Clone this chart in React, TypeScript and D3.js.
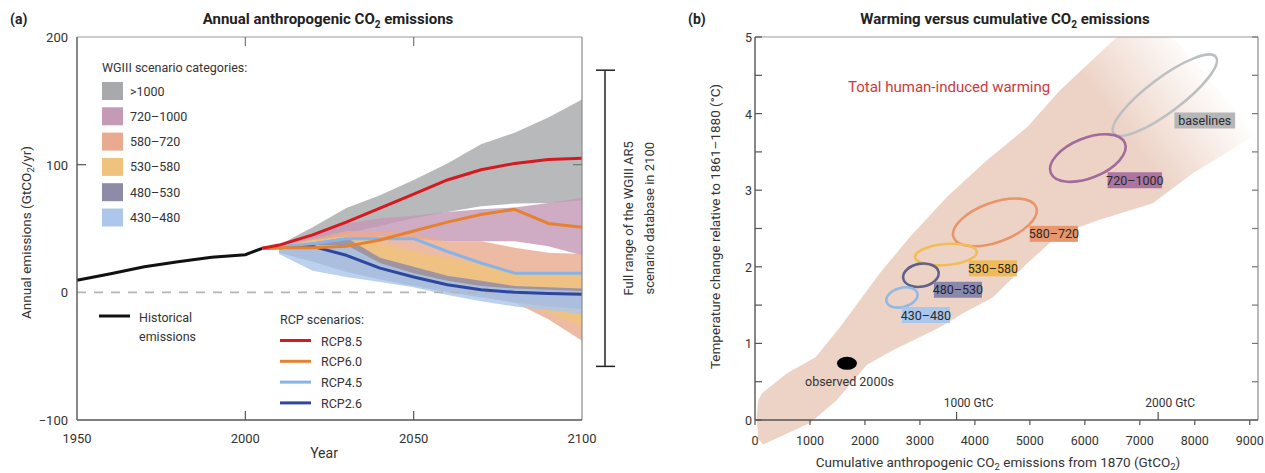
import * as d3 from "d3";

// ---- panel (a) data: annual anthropogenic CO2 emissions (GtCO2/yr)
const histYears = [1950, 1960, 1970, 1980, 1990, 2000, 2005];
const histValues = [9.5, 14.5, 20, 24, 27.5, 29.5, 34.5];

const rcpYears = [2005, 2010, 2020, 2030, 2040, 2050, 2060, 2070, 2080, 2090, 2100];
const rcp85 = [34.5, 37, 45, 55, 66, 77, 88, 96, 101, 104, 105];
const rcp60 = [34.5, 35, 35, 36, 41, 48, 55, 61, 65, 54, 51];
const rcp45 = [34.5, 36, 38, 42, 42, 42, 32, 23, 15, 15, 15];
const rcp26 = [34.5, 35, 36, 29, 19, 12, 6, 2, 0, -1, -1.5];

const bandYears = [2010, 2020, 2030, 2040, 2050, 2060, 2070, 2080, 2090, 2100];
const over1000Upper = [37, 51, 66, 76, 88, 101, 116, 125, 137, 151];
const over1000Lower = [34, 40, 46, 52, 58, 63, 67.5, 69.5, 70, 72];
const c720Upper = [36, 44, 54, 58, 60, 63, 65, 66.5, 70, 74];
const c720Lower = [33, 36, 40, 44, 42, 40, 40, 40, 36, 29];
const c580Upper = [36, 42, 48, 48, 46, 40, 40, 35, 31, 30];
const c580Lower = [31, 25, 18, 12, 6, 2, -2, -8, -21, -38];
const c530Upper = [36, 41, 44, 39, 32, 27, 22, 17, 15, 14];
const c530Lower = [31, 25, 18, 12, 6, 2, -3, -8, -16, -27];
const c480Upper = [35, 39, 43, 27, 20, 13, 9, 5, 4, 3];
const c480Lower = [31, 24, 16, 10, 5, 0, -4, -8, -11, -13];
const c430Upper = [35, 37, 37, 23, 15, 9, 5, 3, 2, 1];
const c430Lower = [30, 17, 12, 8, 4, -2, -7, -11, -14, -17];

const categoryNames = [">1000", "720–1000", "580–720", "530–580", "480–530", "430–480"];
const categoryColors = ["#a7a9ac", "#c59ab6", "#e9ab8f", "#efc37e", "#8d8ba7", "#adc7ea"];
const bandUppers = [over1000Upper, c720Upper, c580Upper, c530Upper, c480Upper, c430Upper];
const bandLowers = [over1000Lower, c720Lower, c580Lower, c530Lower, c480Lower, c430Lower];

const rcpNames = ["RCP8.5", "RCP6.0", "RCP4.5", "RCP2.6"];
const rcpColors = ["#d7191f", "#e5812f", "#86b4e6", "#2c479c"];
const rcpSeries = [rcp85, rcp60, rcp45, rcp26];

const yTicksA = [200, 100, 0, -100];
const xTicksA = [1950, 2000, 2050, 2100];
const fullRange = [-58, 174];

// ---- panel (b) data: warming vs cumulative CO2 emissions
const plumeCum = [150, 1000, 1490, 2036, 2509, 3364, 3800, 4327, 4945, 5545, 6300, 7236, 7963, 8945, 9100, 7600, 6582, 5545, 4945, 4218, 3490, 2818, 2273, 1545, 1100, 582, 130, 60, 30, 60];
const plumeTemp = [-0.32, -0.04, 0.26, 0.72, 0.91, 1.21, 1.4, 1.6, 2.04, 2.43, 2.62, 2.83, 3.22, 3.65, 3.75, 5.0, 5.0, 4.3, 3.82, 3.39, 2.91, 2.39, 1.92, 1.21, 0.82, 0.61, 0.35, 0.26, 0.04, -0.25];

const ellipseNames = ["baselines", "720–1000", "580–720", "530–580", "480–530", "430–480"];
const ellipseCum = [7455, 6055, 4364, 3473, 3018, 2673];
const ellipseTemp = [4.24, 3.42, 2.58, 2.16, 1.89, 1.6];
const ellipseSpanCum = [929, 674, 752, 562, 322, 281];
const ellipseSpanTemp = [0.5, 0.195, 0.196, 0.035, 0.041, 0.054];
const ellipseRatio = [0.27, 0.5, 0.45, 0.34, 0.64, 0.6];
const ellipseStroke = ["#bcc0c2", "#a36b9c", "#e8956a", "#f2bd55", "#5f618b", "#93b8e5"];
const labelFill = ["#b4b6b8", "#ab74a1", "#e7966e", "#f0bb57", "#8a88a8", "#a9c6ec"];
const labelCum = [8182, 6909, 5436, 4327, 3691, 3109];
const labelTemp = [3.91, 3.13, 2.43, 1.98, 1.7, 1.37];

const observedCum = 1673;
const observedTemp = 0.74;

const xTicksB = [0, 1000, 2000, 3000, 4000, 5000, 6000, 7000, 8000, 9000];
const yTicksB = [0, 1, 2, 3, 4, 5];
const yMinorB = [0, 0.5, 1, 1.5, 2, 2.5, 3, 3.5, 4, 4.5, 5];
const gtcTicks = [1000, 2000];
const gtcToGtco2 = 3.667;

const FONT = "Roboto, 'Liberation Sans', sans-serif";

export default function App() {
  const xA = d3.scaleLinear().domain([1950, 2100]).range([77, 582]);
  const yA = d3.scaleLinear().domain([-100, 200]).range([420, 37]);
  const xB = d3.scaleLinear().domain([0, 9150]).range([755, 1258]);
  const yB = d3.scaleLinear().domain([0, 5]).range([420, 37]);

  const bandPath = (up: number[], lo: number[]) => {
    const a = d3.area<number>()
      .x((_, i) => xA(bandYears[i]))
      .y0((_, i) => yA(lo[i]))
      .y1((_, i) => yA(up[i]));
    return a(bandYears) || "";
  };

  const histLine = d3.line<number>().x((_, i) => xA(histYears[i])).y(d => yA(d));
  const rcpLine = d3.line<number>().x((_, i) => xA(rcpYears[i])).y(d => yA(d));

  const plume = d3.line<number>().x(d => xB(d)).y((_, i) => yB(plumeTemp[i]));
  const plumePath = plume(plumeCum) + "Z";

  return (
    <svg width={1265} height={473} style={{ position: "absolute", left: 0, top: 0, background: "#fff" }}
      fontFamily={FONT}>
      <defs>
        <linearGradient id="fade" gradientUnits="userSpaceOnUse" x1={xB(6900)} y1={yB(3.6)} x2={xB(8450)} y2={yB(4.42)}>
          <stop offset="0" stopColor="#edd3c6" stopOpacity={1} />
          <stop offset="1" stopColor="#edd3c6" stopOpacity={0} />
        </linearGradient>
        <clipPath id="clipA">
          <rect x={xA(1950)} y={yA(200)} width={xA(2100) - xA(1950)} height={yA(-100) - yA(200)} />
        </clipPath>
      </defs>

      {/* ================= panel (a) ================= */}
      <text x={10} y={24} fontSize={14} fontWeight="bold" fill="#222">(a)</text>
      <text x={328} y={24} fontSize={15} fontWeight="bold" textAnchor="middle" fill="#222">
        Annual anthropogenic CO<tspan fontSize={10} dy={4}>2</tspan><tspan dy={-4}> emissions</tspan>
      </text>

      <g clipPath="url(#clipA)">
        {bandUppers.map((up, k) => (
          <path key={k} d={bandPath(up, bandLowers[k])} fill={categoryColors[k]} fillOpacity={0.82} />
        ))}
      </g>

      <line x1={xA(1950)} x2={xA(2100)} y1={yA(0)} y2={yA(0)} stroke="#b5b5b5" strokeWidth={1.6} strokeDasharray="9 8" />

      <path d={histLine(histValues) || ""} fill="none" stroke="#111" strokeWidth={3} />
      {rcpSeries.slice().reverse().map((s, k) => {
        const idx = rcpSeries.length - 1 - k;
        return <path key={idx} d={rcpLine(s) || ""} fill="none" stroke={rcpColors[idx]} strokeWidth={3} strokeLinejoin="round" />;
      })}

      {/* frame */}
      <line x1={xA(1950)} x2={xA(2100)} y1={yA(200)} y2={yA(200)} stroke="#9a9a9a" strokeWidth={1.2} />
      <line x1={xA(2100)} x2={xA(2100)} y1={yA(200)} y2={yA(-100)} stroke="#8a8a8a" strokeWidth={1.2} />
      <line x1={xA(1950)} x2={xA(1950)} y1={yA(200)} y2={yA(-100)} stroke="#555" strokeWidth={1.4} />
      <line x1={xA(1950)} x2={xA(2100)} y1={yA(-100)} y2={yA(-100)} stroke="#555" strokeWidth={1.4} />
      {[2000, 2050].map(t => (
        <g key={t}>
          <line x1={xA(t)} x2={xA(t)} y1={yA(-100)} y2={yA(-100) - 9} stroke="#555" strokeWidth={1.2} />
          <line x1={xA(t)} x2={xA(t)} y1={yA(200)} y2={yA(200) + 9} stroke="#777" strokeWidth={1.2} />
        </g>
      ))}
      <line x1={xA(1950)} x2={xA(1950) + 9} y1={yA(100)} y2={yA(100)} stroke="#555" strokeWidth={1.2} />
      <line x1={xA(2100)} x2={xA(2100) - 9} y1={yA(100)} y2={yA(100)} stroke="#777" strokeWidth={1.2} />

      {yTicksA.map(t => (
        <text key={t} x={xA(1950) - 9} y={yA(t) + 5} fontSize={13} textAnchor="end" fill="#333">
          {t < 0 ? "−" + Math.abs(t) : t}
        </text>
      ))}
      {xTicksA.map(t => (
        <text key={t} x={xA(t)} y={443} fontSize={13} textAnchor="middle" fill="#333">{t}</text>
      ))}
      <text x={324} y={458} fontSize={14} textAnchor="middle" fill="#333">Year</text>
      <text transform={`translate(31,${yA(50) + 4}) rotate(-90)`} fontSize={13.5} textAnchor="middle" fill="#333">
        Annual emissions (GtCO<tspan fontSize={9.5} dy={3}>2</tspan><tspan dy={-3}>/yr)</tspan>
      </text>

      {/* full range bracket */}
      <line x1={605} x2={605} y1={yA(fullRange[1])} y2={yA(fullRange[0])} stroke="#222" strokeWidth={1.5} />
      <line x1={596} x2={615} y1={yA(fullRange[1])} y2={yA(fullRange[1])} stroke="#222" strokeWidth={1.5} />
      <line x1={596} x2={615} y1={yA(fullRange[0])} y2={yA(fullRange[0])} stroke="#222" strokeWidth={1.5} />
      <text transform={`translate(633,${yA((fullRange[0] + fullRange[1]) / 2)}) rotate(-90)`} fontSize={13} textAnchor="middle" fill="#333">
        Full range of the WGIII AR5
      </text>
      <text transform={`translate(654,${yA((fullRange[0] + fullRange[1]) / 2)}) rotate(-90)`} fontSize={13} textAnchor="middle" fill="#333">
        scenario database in 2100
      </text>

      {/* legend: WGIII categories */}
      <text x={102} y={72} fontSize={12.5} fill="#333">WGIII scenario categories:</text>
      {categoryNames.map((n, i) => (
        <g key={n} transform={`translate(102,${91 + i * 25.3})`}>
          <rect x={0} y={-9} width={21} height={18} fill={categoryColors[i]} />
          <text x={28} y={4.5} fontSize={12.5} fill="#333">{n}</text>
        </g>
      ))}

      {/* legend: historical */}
      <line x1={99} x2={130} y1={316} y2={316} stroke="#111" strokeWidth={3} />
      <text x={139} y={322} fontSize={12.5} fill="#333">Historical</text>
      <text x={139} y={341} fontSize={12.5} fill="#333">emissions</text>

      {/* legend: RCP */}
      <text x={280} y={324} fontSize={12.5} fill="#333">RCP scenarios:</text>
      {rcpNames.map((n, i) => (
        <g key={n} transform={`translate(280,${340.5 + i * 20.8})`}>
          <line x1={0} x2={31} y1={0} y2={0} stroke={rcpColors[i]} strokeWidth={3} />
          <text x={41} y={5} fontSize={12.5} fill="#333">{n}</text>
        </g>
      ))}

      {/* ================= panel (b) ================= */}
      <text x={688} y={24} fontSize={14} fontWeight="bold" fill="#222">(b)</text>
      <text x={1005} y={24} fontSize={15} fontWeight="bold" textAnchor="middle" fill="#222">
        Warming versus cumulative CO<tspan fontSize={10} dy={4}>2</tspan><tspan dy={-4}> emissions</tspan>
      </text>

      <path d={plumePath} fill="url(#fade)" />

      <text x={848} y={92} fontSize={15} fill="#cf3a3c">Total human-induced warming</text>

      {/* frame */}
      <line x1={xB(0)} x2={xB(9150)} y1={yB(5)} y2={yB(5)} stroke="#9a9a9a" strokeWidth={1.2} />
      <line x1={xB(9150)} x2={xB(9150)} y1={yB(5)} y2={yB(0)} stroke="#8a8a8a" strokeWidth={1.2} />
      <line x1={xB(0)} x2={xB(0)} y1={yB(5)} y2={yB(0)} stroke="#555" strokeWidth={1.4} />
      <line x1={xB(0)} x2={xB(9150)} y1={yB(0)} y2={yB(0)} stroke="#555" strokeWidth={1.4} />
      {yMinorB.map(t => (
        <g key={t}>
          <line x1={xB(0)} x2={xB(0) + 7} y1={yB(t)} y2={yB(t)} stroke="#555" strokeWidth={1.2} />
          <line x1={xB(9150)} x2={xB(9150) - 6} y1={yB(t)} y2={yB(t)} stroke="#777" strokeWidth={1.2} />
        </g>
      ))}
      {yTicksB.map(t => (
        <text key={t} x={752} y={yB(t) + 5} fontSize={12.5} textAnchor="end" fill="#333">{t}</text>
      ))}
      {xTicksB.map(t => (
        <g key={t}>
          <line x1={xB(t)} x2={xB(t)} y1={yB(0)} y2={yB(0) + 5} stroke="#555" strokeWidth={1.2} />
          <text x={xB(t)} y={445} fontSize={12.5} textAnchor="middle" fill="#333">{t}</text>
        </g>
      ))}
      {gtcTicks.map(t => (
        <g key={t}>
          <line x1={xB(t * gtcToGtco2)} x2={xB(t * gtcToGtco2)} y1={yB(0)} y2={yB(0) - 8} stroke="#555" strokeWidth={1.2} />
          <text x={xB(t * gtcToGtco2) + 12} y={407} fontSize={12} textAnchor="middle" fill="#333">{t} GtC</text>
        </g>
      ))}
      <text x={998} y={467} fontSize={13.5} textAnchor="middle" fill="#333">
        Cumulative anthropogenic CO<tspan fontSize={9.5} dy={3}>2</tspan><tspan dy={-3}> emissions from 1870  (GtCO</tspan><tspan fontSize={9.5} dy={3}>2</tspan><tspan dy={-3}>)</tspan>
      </text>
      <text transform={`translate(720,${yB(2.5) - 2}) rotate(-90)`} fontSize={13.5} textAnchor="middle" fill="#333">
        Temperature change relative to 1861–1880 (°C)
      </text>

      {/* ellipses */}
      {ellipseNames.map((n, i) => {
        const cx = xB(ellipseCum[i]);
        const cy = yB(ellipseTemp[i]);
        const dx = xB(ellipseCum[i] + ellipseSpanCum[i]) - cx;
        const dy = yB(ellipseTemp[i] + ellipseSpanTemp[i]) - cy;
        const a = Math.hypot(dx, dy);
        const ang = (Math.atan2(dy, dx) * 180) / Math.PI;
        return (
          <ellipse key={n} cx={cx} cy={cy} rx={a} ry={a * ellipseRatio[i]}
            transform={`rotate(${ang} ${cx} ${cy})`} fill="none" stroke={ellipseStroke[i]} strokeWidth={2.6} />
        );
      })}
      {ellipseNames.map((n, i) => {
        const lx = xB(labelCum[i]);
        const ly = yB(labelTemp[i]);
        const w = n.length * 6.3 + 4;
        return (
          <g key={n}>
            <rect x={lx - w / 2} y={ly - 8} width={w} height={16} fill={labelFill[i]} />
            <text x={lx} y={ly + 4.5} fontSize={12.5} textAnchor="middle" fill={i === 4 ? "#23233f" : "#2a2a2a"}>{n}</text>
          </g>
        );
      })}

      <ellipse cx={xB(observedCum)} cy={yB(observedTemp)} rx={10} ry={6.5} fill="#000" />
      <text x={805} y={386} fontSize={12.5} fill="#333">observed 2000s</text>
    </svg>
  );
}
